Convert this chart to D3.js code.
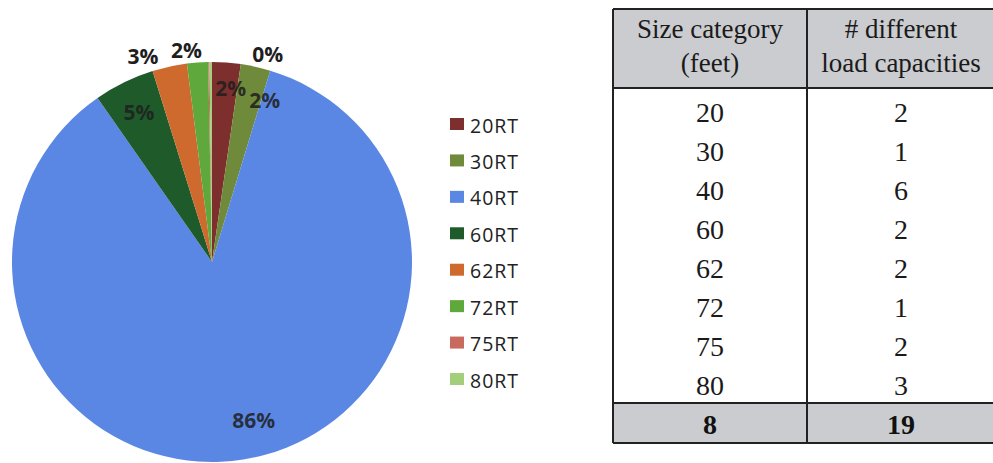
<!DOCTYPE html>
<html><head><meta charset="utf-8">
<script src="https://cdn.jsdelivr.net/npm/d3@7/dist/d3.min.js"></script>
<style>
html,body{margin:0;padding:0;background:#fff;}
svg{display:block;}
</style></head>
<body>
<svg id="chart" width="993" height="463"></svg>
<script>
// ---- data ----
const categories = ["20RT","30RT","40RT","60RT","62RT","72RT","75RT","80RT"];
const shares = [2.3, 2.4, 85.6, 4.9, 2.8, 1.7, 0.1, 0.2];
const colors = ["#7d2f2d","#6f8a3b","#5b87e4","#1f5a2b","#cf6a2f","#5ea83c","#c96a5f","#a3cf7c"];
const sizeCategories = ["20","30","40","60","62","72","75","80"];
const loadCapacities = [2,1,6,2,2,1,2,3];
const tableHeaders = [["Size category","(feet)"],["# different","load capacities"]];

// label layout (style only)
const labelMode = ["in","in","in","in","out","out","out","none"];
const labelNudge = [[7,-10],[17,-2],[16,-4],[-1,-3],[-23,6],[-10,4],[8,4],[0,0]];

const svg = d3.select("#chart");
const cx = 212, cy = 262, R = 200;
const pie = d3.pie().sort(null).value(d => d)(shares);
const arc = d3.arc().innerRadius(0).outerRadius(R);
const g = svg.append("g").attr("transform", `translate(${cx},${cy})`);
g.selectAll("path").data(pie).join("path")
  .attr("d", arc).attr("fill", (d,i) => colors[i]);

const inArc = d3.arc().innerRadius(R*0.82).outerRadius(R*0.82);
const outArc = d3.arc().innerRadius(R+17).outerRadius(R+17);
const total = d3.sum(shares);
pie.forEach((d,i) => {
  if (labelMode[i] === "none") return;
  let p;
  if (labelMode[i] === "in") p = inArc.centroid(d);
  else p = outArc.centroid(d);
  if (i === 6) { // label pushed to the right of the top, as in source
    const a = pie[1].endAngle * 0.75;
    p = [Math.sin(a)*(R+17), -Math.cos(a)*(R+17)];
  }
  g.append("text")
    .attr("x", p[0] + labelNudge[i][0]).attr("y", p[1] + labelNudge[i][1])
    .attr("text-anchor","middle").attr("dominant-baseline","central")
    .attr("font-family","'Open Sans', sans-serif").attr("font-weight","bold")
    .attr("font-size", 21).attr("fill", "#1e1e1e")
    .attr("fill-opacity", labelMode[i]==="in" ? 0.85 : 1)
    .text(Math.round(shares[i]/total*100) + "%");
});

// legend
const ly = d3.scalePoint().domain(categories).range([124, 379]);
const leg = svg.append("g");
categories.forEach((c,i) => {
  leg.append("rect").attr("x", 450).attr("y", ly(c)-6).attr("width", 14).attr("height", 12)
    .attr("fill", colors[i]);
  leg.append("text").attr("x", 470).attr("y", ly(c)+1).attr("dominant-baseline","central")
    .attr("font-family","'Open Sans', sans-serif").attr("font-size", 19.5).attr("letter-spacing", 1)
    .attr("fill","#222")
    .text(c);
});

// table
const tx0 = 613, tx1 = 807, tx2 = 999;
const headTop = 9, headBot = 88, footTop = 403, footBot = 443;
const rowY = d3.scalePoint().domain(sizeCategories).range([112, 385]);
const t = svg.append("g");
t.append("rect").attr("x", tx0).attr("y", headTop).attr("width", tx2-tx0).attr("height", headBot-headTop).attr("fill","#cbcccf");
t.append("rect").attr("x", tx0).attr("y", footTop).attr("width", tx2-tx0).attr("height", footBot-footTop).attr("fill","#cbcccf");
const colC = [(tx0+tx1)/2, (tx1+tx2)/2 - 2];
tableHeaders.forEach((h,ci) => {
  h.forEach((line,li) => {
    t.append("text").attr("x", colC[ci]).attr("y", li===0 ? 29 : 63)
      .attr("text-anchor","middle").attr("dominant-baseline","central")
      .attr("font-family","'Liberation Serif', 'Times New Roman', serif").attr("font-size", 27)
      .attr("fill","#1a1a1a").text(line);
  });
});
sizeCategories.forEach((s,i) => {
  t.append("text").attr("x", colC[0]).attr("y", rowY(s)).attr("text-anchor","middle").attr("dominant-baseline","central")
    .attr("font-family","'Liberation Serif', serif").attr("font-size", 28).attr("fill","#1a1a1a").text(s);
  t.append("text").attr("x", colC[1]).attr("y", rowY(s)).attr("text-anchor","middle").attr("dominant-baseline","central")
    .attr("font-family","'Liberation Serif', serif").attr("font-size", 28).attr("fill","#1a1a1a").text(loadCapacities[i]);
});
const totals = [sizeCategories.length, d3.sum(loadCapacities)];
totals.forEach((v,ci) => {
  t.append("text").attr("x", colC[ci]).attr("y", (footTop+footBot)/2+1).attr("text-anchor","middle").attr("dominant-baseline","central")
    .attr("font-family","'Liberation Serif', serif").attr("font-weight","bold").attr("font-size", 28).attr("fill","#111").text(v);
});
const lc = "#222";
[[tx0,headTop,tx2,headTop],[tx0,headBot,tx2,headBot],[tx0,footTop,tx2,footTop],[tx0,footBot,tx2,footBot],
 [tx0,headTop,tx0,footBot],[tx1,headTop,tx1,footBot],[tx2,headTop,tx2,footBot]].forEach(l => {
  t.append("line").attr("x1",l[0]).attr("y1",l[1]).attr("x2",l[2]).attr("y2",l[3]).attr("stroke",lc).attr("stroke-width",2);
});
</script>
</body></html>
